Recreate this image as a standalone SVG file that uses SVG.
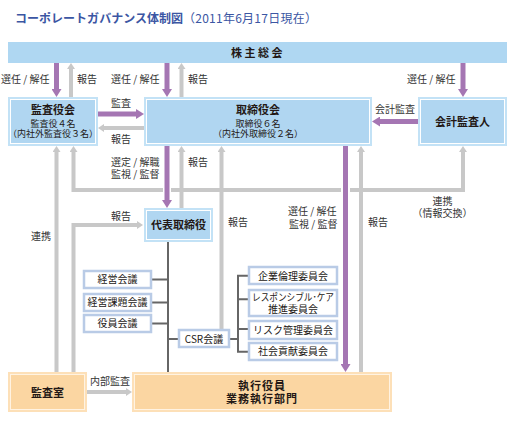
<svg xmlns="http://www.w3.org/2000/svg" width="512" height="444" viewBox="0 0 512 444">
<style>
text{font-family:"Noto Sans CJK JP","Noto Sans CJK SC",sans-serif;fill:#231815}
.t{font-size:12px;font-weight:bold;fill:#3b56a3}
.h{font-size:11px;font-weight:bold;text-anchor:middle}
.s{font-size:9px;text-anchor:middle}
.b{font-size:10px;text-anchor:middle}
.l{font-size:10px;fill:#333}
.bo{fill:#c3e2f6}
.bi{fill:#b0d6f1;stroke:#fff;stroke-width:1}
.oo{fill:#fde0b8}
.oi{fill:#fbd6a2;stroke:#fff3e2;stroke-width:1}
.w{fill:#fff;stroke:#b9cbe6;stroke-width:2.5}
.p{fill:none;stroke:#a576b3;stroke-width:5;marker-end:url(#ap)}
.g{fill:none;stroke:#c8c8c8;stroke-width:4;marker-end:url(#ag)}
.d{fill:none;stroke:#666;stroke-width:2}
</style>
<defs>
<marker id="ap" markerUnits="userSpaceOnUse" markerWidth="8" markerHeight="10" viewBox="0 0 8 10" refX="1" refY="5" orient="auto-start-reverse"><path d="M0,0L8,5L0,10z" fill="#a576b3"/></marker>
<marker id="ag" markerUnits="userSpaceOnUse" markerWidth="6" markerHeight="8" viewBox="0 0 6 8" refX="1" refY="4" orient="auto-start-reverse"><path d="M0,0L6,4L0,8z" fill="#c8c8c8"/></marker>
</defs>

<text class="t" y="23"><tspan x="15" textLength="168">コーポレートガバナンス体制図</tspan><tspan x="183" textLength="134" font-weight="normal">（2011年6月17日現在）</tspan></text>

<g id="connectors">
<path class="g" d="M71,97V68"/>
<path class="g" d="M181.5,97V68"/>
<path class="g" d="M144,128H103"/>
<path class="g" d="M181.5,208V151"/>
<path class="g" d="M221.5,329V151"/>
<path class="g" d="M361,372V151"/>
<path class="g" style="marker-start:url(#ag)" d="M73.5,151V190H163M171,190H341M350,190H463V151"/>
<path class="g" d="M56.5,372V151"/>
<path class="g" d="M73.5,372V225H138"/>
<path class="g" d="M87,392H127"/>
<path class="p" d="M56.5,63V90"/>
<path class="p" d="M167,63V90"/>
<path class="p" d="M463,63V90"/>
<path class="p" d="M98,114H137"/>
<path class="p" d="M418,121.5H379"/>
<path class="p" d="M167,146V201"/>
<path class="p" d="M345.5,146V365"/>
<path class="d" d="M168,242V372M152,279.5H168M152,302.5H168M152,323.5H168M168,339H179"/>
<path class="d" d="M229,339H238M248,275.7H238V351.7H248M238,299.3H248M238,329H248"/>
</g>

<g id="labels">
<text class="l" x="1" y="83">選任 / 解任</text>
<text class="l" x="77" y="83">報告</text>
<text class="l" x="111" y="83">選任 / 解任</text>
<text class="l" x="188" y="83">報告</text>
<text class="l" x="407" y="83">選任 / 解任</text>
<text class="l" x="111" y="107">監査</text>
<text class="l" x="111" y="143">報告</text>
<text class="l" x="375" y="113">会計監査</text>
<text class="l" x="111" y="165.5">選定 / 解職</text>
<text class="l" x="111" y="177.5">監視 / 監督</text>
<text class="l" x="188" y="166">報告</text>
<text class="l" x="111" y="220">報告</text>
<text class="l" x="31" y="240">連携</text>
<text class="l" x="228" y="226">報告</text>
<text class="l" x="288" y="215">選任 / 解任</text>
<text class="l" x="289" y="228">監視 / 監督</text>
<text class="l" x="368" y="226">報告</text>
<text class="l" x="442.5" y="204.5" text-anchor="middle">連携</text>
<text class="l" x="442.5" y="216.5" text-anchor="middle">（情報交換）</text>
<text class="l" x="90" y="385">内部監査</text>
</g>

<g id="shareholders">
<rect x="8" y="42" width="499" height="21" fill="#afd7f2"/>
<text class="h" x="258" y="57" font-size="12" letter-spacing="2.5">株主総会</text>
</g>

<g id="kansayakukai">
<rect class="bo" x="8" y="97" width="90" height="49"/>
<rect class="bi" x="10.5" y="99.5" width="85" height="44"/>
<text class="h" x="53" y="114">監査役会</text>
<text class="s" x="53" y="126.5">監査役４名</text>
<text class="s" x="53" y="137">（内社外監査役３名）</text>
</g>

<g id="torishimariyakukai">
<rect class="bo" x="144" y="97" width="228" height="49"/>
<rect class="bi" x="146.5" y="99.5" width="223" height="44"/>
<text class="h" x="258" y="114">取締役会</text>
<text class="s" x="258" y="126.5">取締役６名</text>
<text class="s" x="258" y="137">（内社外取締役２名）</text>
</g>

<g id="auditor">
<rect class="bo" x="418" y="97" width="89" height="49"/>
<rect class="bi" x="420.5" y="99.5" width="84" height="44"/>
<text class="h" x="462.5" y="126">会計監査人</text>
</g>

<g id="daihyo">
<rect class="bo" x="144" y="208" width="69" height="34"/>
<rect class="bi" x="146.5" y="210.5" width="64" height="29"/>
<text class="h" x="178.5" y="229">代表取締役</text>
</g>

<g id="keiei"><rect class="w" x="84" y="271" width="67" height="17"/><text class="b" x="117.5" y="283">経営会議</text></g>
<g id="keieikadai"><rect class="w" x="84" y="294" width="67" height="17"/><text class="b" x="117.5" y="306">経営課題会議</text></g>
<g id="yakuin"><rect class="w" x="84" y="315" width="67" height="17"/><text class="b" x="117.5" y="327">役員会議</text></g>
<g id="csr"><rect class="w" x="179" y="330" width="50" height="17"/><text class="b" x="204" y="342.5">CSR会議</text></g>

<g id="rinri"><rect class="w" x="249" y="267" width="88" height="17"/><text class="b" x="293" y="279.5">企業倫理委員会</text></g>
<g id="rc"><rect class="w" x="249" y="290" width="88" height="26"/><text class="b" x="293" y="301" font-size="9.5" textLength="82" lengthAdjust="spacingAndGlyphs">レスポンシブル･ケア</text><text class="b" x="293" y="313">推進委員会</text></g>
<g id="risk"><rect class="w" x="249" y="321" width="88" height="18"/><text class="b" x="293" y="333.5">リスク管理委員会</text></g>
<g id="shakai"><rect class="w" x="249" y="343" width="88" height="17"/><text class="b" x="293" y="355">社会貢献委員会</text></g>

<g id="kansashitsu">
<rect class="oo" x="8" y="372" width="79" height="40"/>
<rect class="oi" x="10.5" y="374.5" width="74" height="35"/>
<text class="h" x="47.5" y="397">監査室</text>
</g>

<g id="shikko">
<rect class="oo" x="132" y="372" width="260" height="40"/>
<rect class="oi" x="134.5" y="374.5" width="255" height="35"/>
<text class="h" x="262" y="390" letter-spacing="1">執行役員</text>
<text class="h" x="262" y="403" letter-spacing="1">業務執行部門</text>
</g>
</svg>
